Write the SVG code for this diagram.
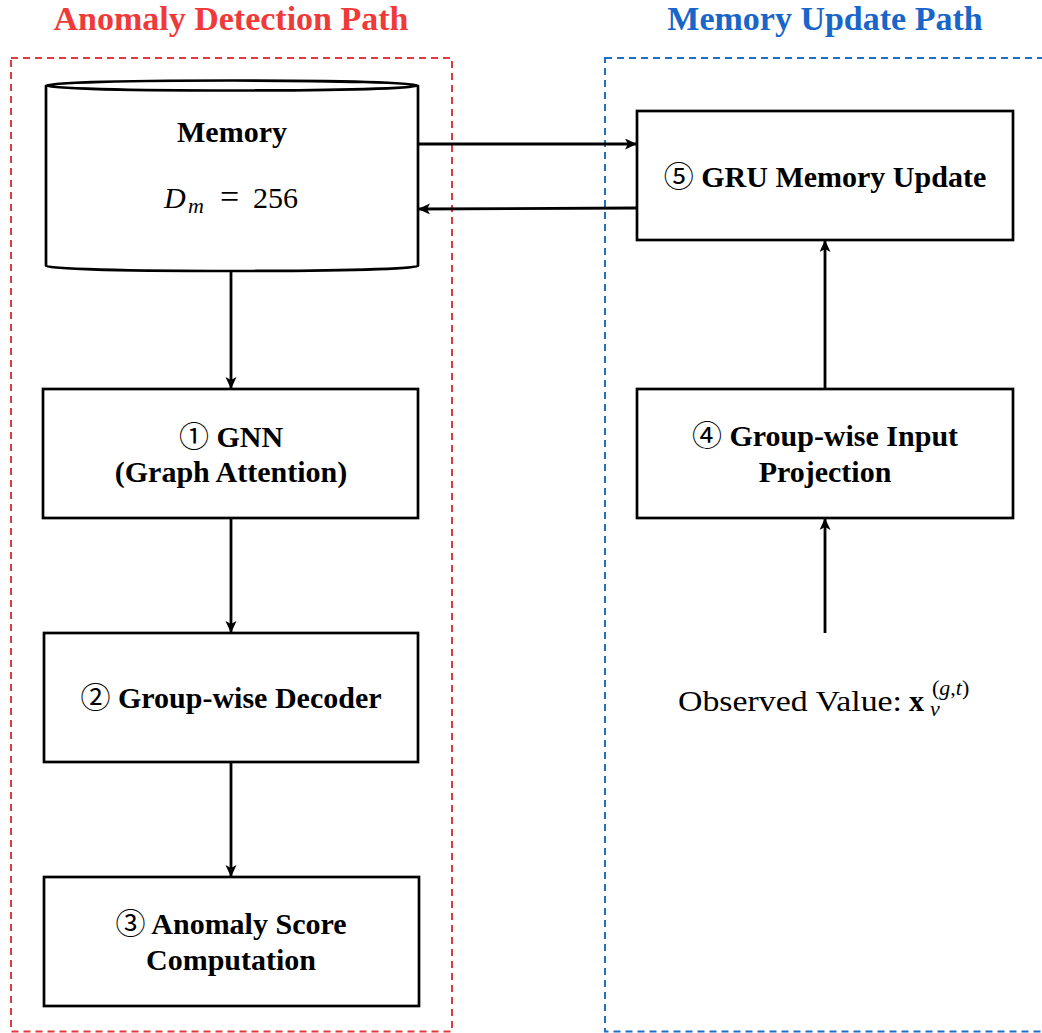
<svg xmlns="http://www.w3.org/2000/svg" width="1042" height="1033" viewBox="0 0 1042 1033">
  <style>
    .title { font-family: "Liberation Serif", "Times New Roman", serif; font-size: 34px; font-weight: bold; text-anchor: middle; }
    .lbl { font-family: "Liberation Serif", "Times New Roman", serif; font-size: 30px; font-weight: bold; text-anchor: middle; fill: #000; }
    .num { font-family: "Noto Sans CJK SC", "DejaVu Sans", sans-serif; font-weight: normal; }
    .math { font-family: "Liberation Serif", "Times New Roman", serif; font-size: 30px; fill: #000; }
    .script { font-size: 22px; }
    .box { fill: #fff; stroke: #000; stroke-width: 2.7; }
    .region { fill: none; stroke-width: 2; stroke-dasharray: 7 5; }
    .edge { fill: none; stroke: #000; stroke-width: 2.8; marker-end: url(#arrow); }
  </style>
  <defs>
    <marker id="arrow" markerUnits="userSpaceOnUse" markerWidth="13" markerHeight="12" refX="12" refY="5.5" orient="auto">
      <path d="M0,0 L12,5.5 L0,11 L3,5.5 z" fill="#000"/>
    </marker>
  </defs>

  <rect width="1042" height="1033" fill="#fff"/>

  <!-- path regions -->
  <g id="anomaly-path">
    <rect class="region" x="11" y="58" width="441" height="973.5" stroke="#e23b3f"/>
    <text class="title" x="231" y="30" fill="#ef3a3a">Anomaly Detection Path</text>
  </g>
  <g id="update-path">
    <rect class="region" x="605" y="58" width="445" height="973.5" stroke="#1f6fc8"/>
    <text class="title" x="825" y="30" fill="#1866c9">Memory Update Path</text>
  </g>

  <!-- memory store -->
  <g id="memory">
    <path class="box" d="M46,85.5 L46,266 A186,5 0 0 0 418,266 L418,85.5"/>
    <ellipse class="box" cx="232" cy="85.5" rx="186" ry="5"/>
    <text class="lbl" x="232" y="142">Memory</text>
    <text class="math" y="208"><tspan x="164" font-style="italic">D</tspan><tspan class="script" x="188" y="213" font-style="italic">m</tspan><tspan x="220" y="208" style="font-size:34px">=</tspan><tspan x="253" y="208">256</tspan></text>
  </g>

  <g id="gnn">
    <rect class="box" x="43" y="389" width="375" height="129"/>
    <text class="lbl" x="231" y="447"><tspan class="num">①</tspan> GNN</text>
    <text class="lbl" x="231" y="482">(Graph Attention)</text>
  </g>

  <g id="decoder">
    <rect class="box" x="44" y="633" width="374" height="129"/>
    <text class="lbl" x="231" y="708"><tspan class="num">②</tspan> Group-wise Decoder</text>
  </g>

  <g id="score">
    <rect class="box" x="44" y="877" width="375" height="129"/>
    <text class="lbl" x="231" y="934"><tspan class="num">③</tspan> Anomaly Score</text>
    <text class="lbl" x="231" y="970">Computation</text>
  </g>

  <g id="gru">
    <rect class="box" x="637" y="111" width="376" height="129"/>
    <text class="lbl" x="825" y="187"><tspan class="num">⑤</tspan> GRU Memory Update</text>
  </g>

  <g id="projection">
    <rect class="box" x="637" y="389" width="376" height="129"/>
    <text class="lbl" x="825" y="446"><tspan class="num">④</tspan> Group-wise Input</text>
    <text class="lbl" x="825" y="482">Projection</text>
  </g>

  <g id="observed">
    <text class="math" x="678" y="711" textLength="224" lengthAdjust="spacingAndGlyphs">Observed Value:</text>
    <text class="math" x="909" y="711"><tspan font-weight="bold">x</tspan><tspan class="script" x="930" y="716" font-style="italic">v</tspan><tspan class="script" x="932" y="695">(<tspan font-style="italic">g</tspan>,<tspan font-style="italic">t</tspan>)</tspan></text>
  </g>

  <!-- connectors -->
  <g id="connectors">
    <line class="edge" x1="231" y1="271" x2="231" y2="389"/>
    <line class="edge" x1="231" y1="518" x2="231" y2="633"/>
    <line class="edge" x1="231" y1="762" x2="231" y2="877"/>
    <line class="edge" x1="418" y1="144" x2="637" y2="144"/>
    <line class="edge" x1="637" y1="208" x2="418" y2="209"/>
    <line class="edge" x1="825" y1="389" x2="825" y2="240"/>
    <line class="edge" x1="825" y1="633" x2="825" y2="518"/>
  </g>
</svg>
